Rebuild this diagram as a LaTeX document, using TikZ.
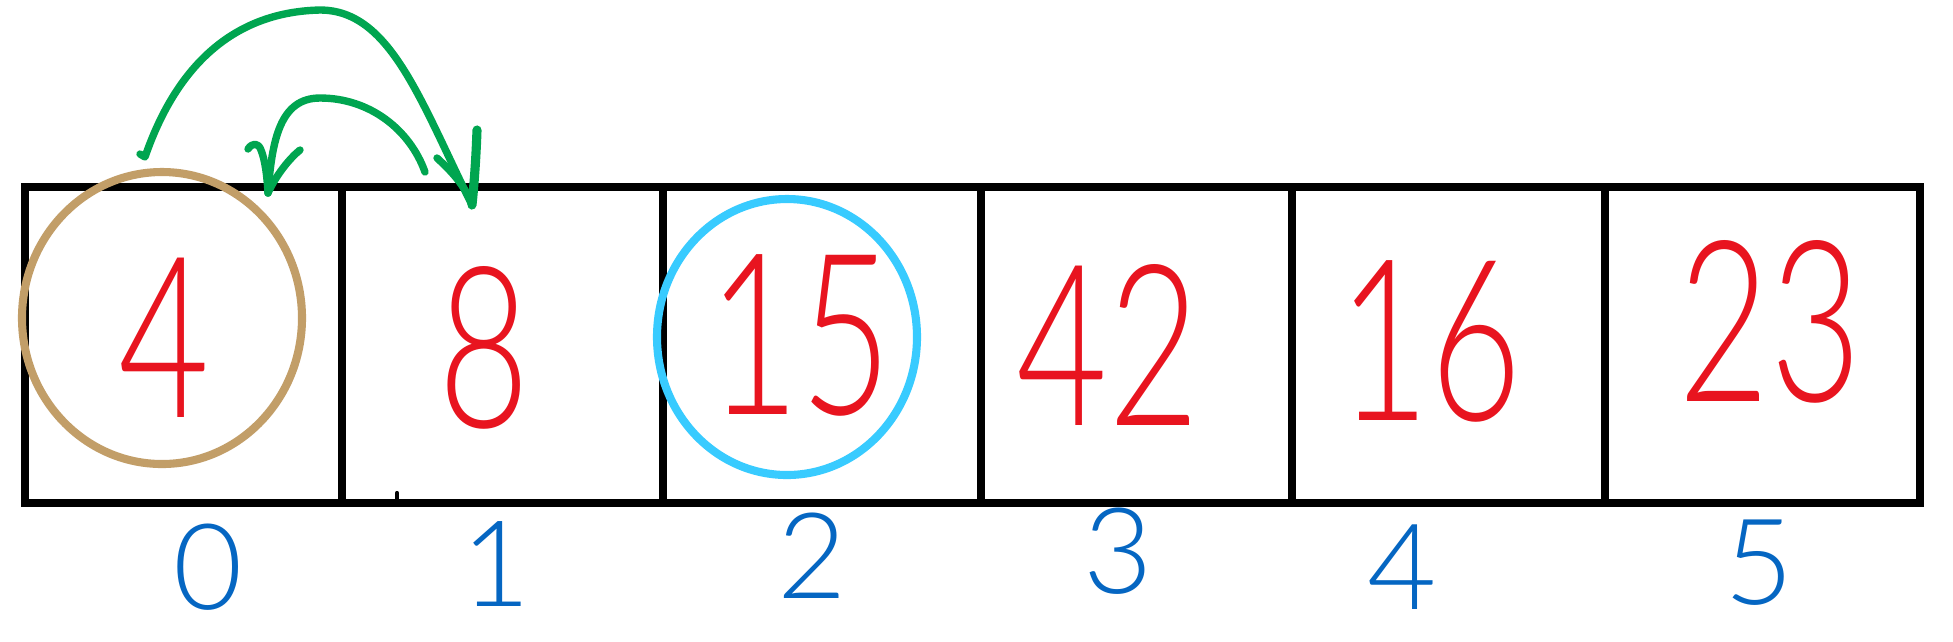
\documentclass[tikz,border=0pt]{standalone}
\usepackage{fontspec}
\usepackage{graphicx}
\IfFontExistsTF{Lato Light}{\newfontfamily\handfont{Lato Light}}{%
 \IfFontExistsTF{Lato-Light.ttf}{\newfontfamily\handfont{Lato-Light.ttf}}{%
  \IfFontExistsTF{Poppins Light}{\newfontfamily\handfont{Poppins Light}}{%
   \IfFontExistsTF{Fira Sans Light}{\newfontfamily\handfont{Fira Sans Light}}{%
    \newfontfamily\handfont{Lato}}}}}
\definecolor{valred}{HTML}{E8141F}
\definecolor{idxblue}{HTML}{0566C2}
\definecolor{swapgreen}{HTML}{00A550}
\definecolor{ringtan}{HTML}{C29E68}
\definecolor{ringcyan}{HTML}{38CBFF}
\tikzset{
  cellbox/.style={draw=black, line width=2.3pt, rectangle, minimum height=3.16cm, inner sep=0pt},
  valtext/.style={text=valred, inner sep=0pt, font=\handfont\fontsize{64}{70}\selectfont, xscale=0.7, transform shape},
  idxtext/.style={text=idxblue, inner sep=0pt, font=\handfont\fontsize{34}{40}\selectfont},
  ringline/.style={line width=2.3pt},
  swapline/.style={draw=swapgreen, line width=2.1pt, line cap=round, line join=round},
}
\begin{document}
\begin{tikzpicture}[x=0.01cm,y=-0.01cm]
\useasboundingbox (0,0) rectangle (1953,641);
\fill[white] (0,0) rectangle (1953,641);

% cells
\node[cellbox, minimum width=3.17cm] (c0) at (183.5,345) {};
\node[cellbox, minimum width=3.21cm] (c1) at (502.5,345) {};
\node[cellbox, minimum width=3.18cm] (c2) at (822,345) {};
\node[cellbox, minimum width=3.11cm] (c3) at (1136.5,345) {};
\node[cellbox, minimum width=3.13cm] (c4) at (1448.5,345) {};
\node[cellbox, minimum width=3.15cm] (c5) at (1762.5,345) {};
\draw[line width=1.2pt, line cap=round] (397,493) -- (397,499);

% values
\node[valtext] (v0) at (164,338) {4};
\node[valtext] (v1) at (484,348) {8};
\node[valtext] (v2) at (800,335) {15};
\node[valtext] (v3) at (1108,345) {42};
\node[valtext] (v4) at (1430,341) {16};
\node[valtext] (v5) at (1770,322) {23};

% indices
\node[idxtext] (i0) at (208,567) {0};
\node[idxtext] (i1) at (496,564) {1};
\node[idxtext] (i2) at (812,556) {2};
\node[idxtext] (i3) at (1118,551) {3};
\node[idxtext] (i4) at (1402,567) {4};
\node[idxtext] (i5) at (1759,563) {5};

% rings
\draw[ringline, draw=ringtan] (162,318) ellipse (140 and 146);
\draw[ringline, draw=ringcyan] (787,337) ellipse (130 and 138);

% swap arrows
\coordinate (bigtail) at (145,157);
\coordinate (bigpeak) at (320,10);
\coordinate (bigtip) at (472,205);
\coordinate (bigbarbR) at (477,130);
\coordinate (bigbarbL) at (437,158);
\coordinate (smalltail) at (425,172);
\coordinate (smallpeak) at (320,98);
\coordinate (smalltip) at (268,193);
\coordinate (smallbarbR) at (300,150);

\draw[swapline] (140,154) -- (bigtail) .. controls (175,70) and (230,12) .. (bigpeak)
  .. controls (390,10) and (420,100) .. (bigtip);
\draw[swapline, line width=2.6pt] (bigbarbR) .. controls (476,160) and (474,185) .. (bigtip);
\draw[swapline] (bigbarbL) .. controls (450,170) and (465,185) .. (bigtip);

\draw[swapline] (smalltail) .. controls (410,130) and (370,98) .. (smallpeak)
  .. controls (280,98) and (272,140) .. (smalltip);
\draw[swapline] (248,149) .. controls (252,143) and (258,142) .. (261,150) .. controls (265,160) and (267,175) .. (smalltip);
\draw[swapline] (smallbarbR) .. controls (290,158) and (276,175) .. (smalltip);
\end{tikzpicture}
\end{document}
